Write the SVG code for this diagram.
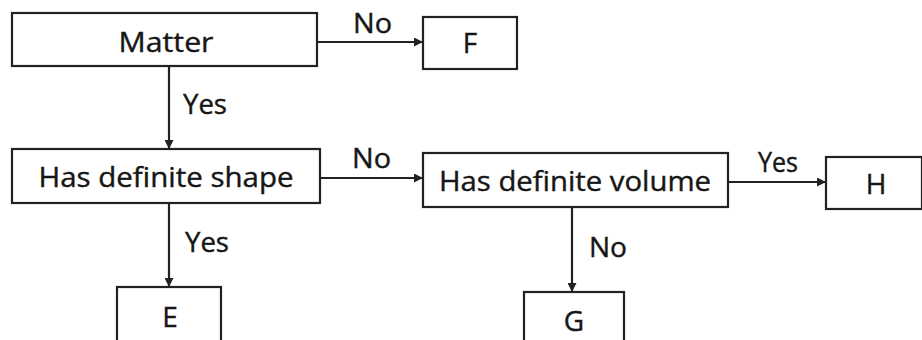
<svg xmlns="http://www.w3.org/2000/svg" width="922" height="340" viewBox="0 0 922 340">
<style>
.box{fill:#fff;stroke:#222;stroke-width:2.2}
.t{font-family:"Open Sans","Liberation Sans",sans-serif;font-size:28px;fill:#161616;stroke:#161616;stroke-width:0.4;text-anchor:middle}
.l{font-family:"Open Sans","Liberation Sans",sans-serif;font-size:27px;fill:#161616;stroke:#161616;stroke-width:0.4}
.c{stroke:#222;stroke-width:2.2;fill:none;marker-end:url(#ah)}
</style>
<defs>
<marker id="ah" markerWidth="9" markerHeight="9" refX="8" refY="4.5" orient="auto" markerUnits="userSpaceOnUse">
<path d="M0,0 L9,4.5 L0,9 z" fill="#222"/>
</marker>
</defs>
<rect width="922" height="340" fill="#fff"/>
<g id="connectors">
<line class="c" x1="317" y1="42" x2="422" y2="42"/>
<line class="c" x1="169" y1="66" x2="169" y2="148"/>
<line class="c" x1="320" y1="178" x2="422" y2="178"/>
<line class="c" x1="169" y1="203" x2="169" y2="286"/>
<line class="c" x1="728" y1="182" x2="825" y2="182"/>
<line class="c" x1="572" y1="207" x2="572" y2="291"/>
<text class="l" x="353" y="33" textLength="39" lengthAdjust="spacingAndGlyphs">No</text>
<text class="l" x="183" y="114" textLength="44" lengthAdjust="spacingAndGlyphs">Yes</text>
<text class="l" x="352" y="168" textLength="39" lengthAdjust="spacingAndGlyphs">No</text>
<text class="l" x="185" y="252" textLength="44" lengthAdjust="spacingAndGlyphs">Yes</text>
<text class="l" x="758" y="172" textLength="40" lengthAdjust="spacingAndGlyphs">Yes</text>
<text class="l" x="589" y="257" textLength="38" lengthAdjust="spacingAndGlyphs">No</text>
</g>
<g id="matter"><rect class="box" x="12" y="13" width="305" height="53"/><text class="t" x="166" y="52" textLength="95" lengthAdjust="spacingAndGlyphs">Matter</text></g>
<g id="F"><rect class="box" x="423" y="17" width="94" height="52"/><text class="t" x="470" y="53">F</text></g>
<g id="shape"><rect class="box" x="12" y="149" width="308" height="54"/><text class="t" x="166" y="187" textLength="255" lengthAdjust="spacingAndGlyphs">Has definite shape</text></g>
<g id="volume"><rect class="box" x="423" y="153" width="305" height="54"/><text class="t" x="575" y="191" textLength="272" lengthAdjust="spacingAndGlyphs">Has definite volume</text></g>
<g id="H"><rect class="box" x="826" y="157" width="96" height="52"/><text class="t" x="876" y="194">H</text></g>
<g id="E"><rect class="box" x="117" y="287" width="104" height="60"/><text class="t" x="170" y="327">E</text></g>
<g id="G"><rect class="box" x="524" y="292" width="100" height="60"/><text class="t" x="574" y="331">G</text></g>
</svg>
